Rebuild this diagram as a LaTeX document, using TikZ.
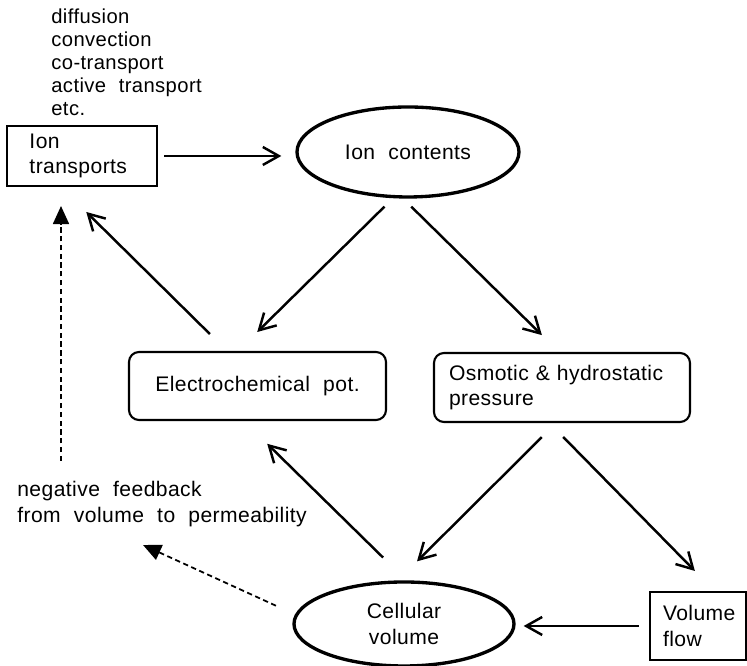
\documentclass[tikz,border=0pt]{standalone}
\usepackage{fontspec}
\setmainfont{Liberation Sans}[WordSpace=2.1,LetterSpace=2]
\usetikzlibrary{arrows.meta,shapes.geometric}
\begin{document}
\begin{tikzpicture}[
  flow/.style={draw=black,line width=1.4pt,-{Straight Barb[length=3.2mm,width=3.6mm]}},
  fb/.style={draw=black,line width=1pt,densely dashed,-{Triangle[length=3.6mm,width=3.2mm]}},
  lbl/.style={font=\fontsize{12}{14.5}\selectfont},
  box/.style={lbl,draw=black,line width=1.2pt,align=left,inner ysep=0pt},
  rbox/.style={box,rounded corners=0.2cm},
  oval/.style={lbl,draw=black,line width=1.9pt,ellipse,inner sep=0pt,align=center}
]
  \useasboundingbox (0,0) rectangle (14.94,13.32);

  \node[font=\fontsize{11.5}{13.1}\selectfont,anchor=west,inner sep=0pt,align=left] (mech) at (1.02,12.08)
    {diffusion\\convection\\co-transport\\active transport\\etc.};

  \node[box,text width=2.1cm,inner xsep=0.45cm,minimum height=1.2cm] (itr) at (1.64,10.2) {Ion\\transports};
  \node[oval,minimum width=4.44cm,minimum height=1.8cm] (ion) at (8.16,10.28) {Ion contents};
  \node[rbox,align=center,minimum width=5.14cm,minimum height=1.36cm] (ech) at (5.15,5.6) {Electrochemical pot.};
  \node[rbox,text width=4.52cm,inner xsep=0.3cm,minimum height=1.38cm] (osm) at (11.24,5.57) {Osmotic \& hydrostatic\\pressure};
  \node[oval,minimum width=4.4cm,minimum height=1.68cm] (cel) at (8.08,0.84) {Cellular\\volume};
  \node[box,text width=1.4cm,inner xsep=0.26cm,minimum height=1.36cm] (vfl) at (13.96,0.8) {Volume\\flow};
  \node[lbl,anchor=west,inner sep=0pt,align=left] (neg) at (0.34,3.24) {negative feedback\\from volume to permeability};

  \coordinate (fb1) at (1.22,4.1);
  \coordinate (fb2) at (2.86,2.42);

  \draw[flow,shorten <=0.12cm,shorten >=0.28cm] (itr.east) -- (itr.east -| ion.west);
  \draw[flow,shorten <=0.24cm,shorten >=0.54cm] (ion.252) -- ([xshift=-0.39cm]ech.north);
  \draw[flow,shorten <=0.23cm,shorten >=0.48cm] (ion.264) -- ([xshift=-0.06cm]osm.north);
  \draw[flow,shorten <=0.48cm,shorten >=0.71cm] ([xshift=-0.61cm]ech.north) -- ([xshift=-0.42cm]itr.south);
  \draw[flow,shorten <=0.65cm,shorten >=0.65cm] (cel.87) -- ([xshift=-0.27cm]ech.south);
  \draw[flow,shorten <=0.4cm,shorten >=0.54cm] ([xshift=-0.12cm]osm.south) -- (cel.98);
  \draw[flow,shorten <=0.39cm,shorten >=0.56cm] ([xshift=-0.25cm]osm.south) -- ([xshift=0.33cm]vfl.north);
  \draw[flow,shorten <=0.2cm,shorten >=0.16cm] (vfl.west) -- (vfl.west -| cel.east);

  \draw[fb,shorten >=0.38cm] (fb1) -- ([xshift=-0.42cm]itr.south);
  \draw[fb,shorten <=0.42cm] (cel.175) -- (fb2);
\end{tikzpicture}
\end{document}
